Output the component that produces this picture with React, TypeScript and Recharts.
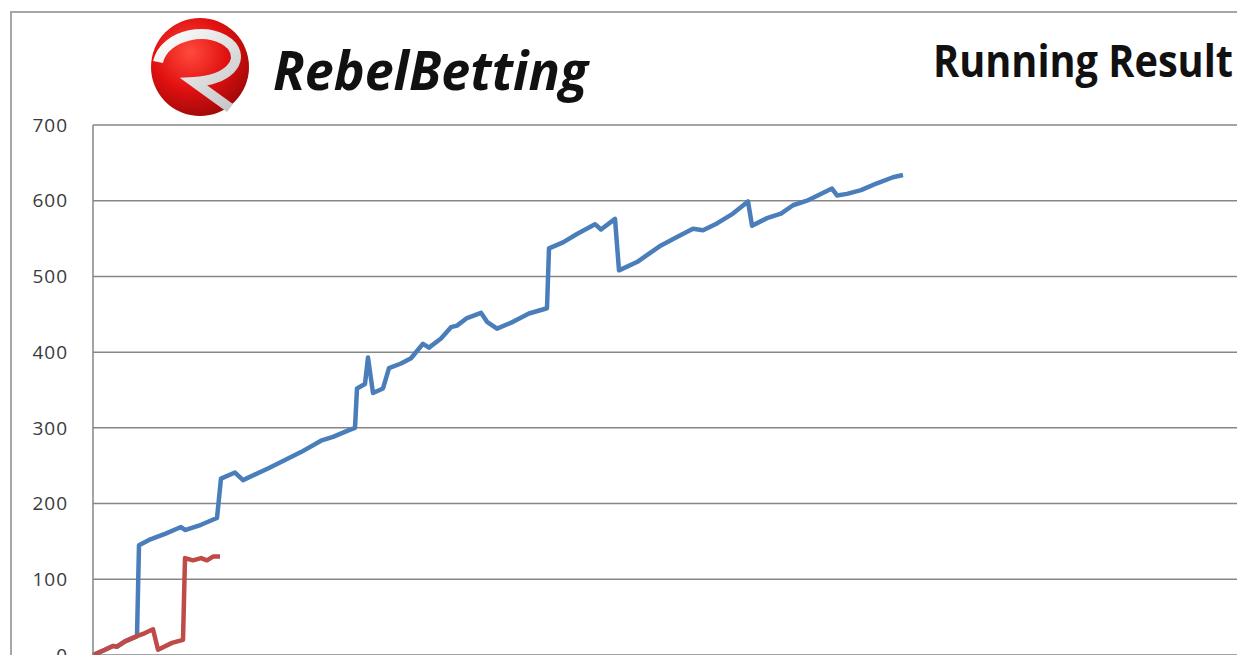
import React from "react";
import { LineChart, Line, XAxis, YAxis, CartesianGrid } from "recharts";

// running profit per betting day
const BLUE_DAYS = [0, 3, 5, 6, 8, 11, 11.5, 14, 18, 22, 23, 27, 31, 32, 35.5, 37.5, 44, 52, 57, 60, 64, 65.5, 66, 68, 68.75, 70, 72.5, 74, 77, 79.5, 82.5, 84, 87, 89.5, 91, 93.5, 97, 98.5, 101, 105, 109, 113.5, 114, 117.5, 121, 125.5, 127, 130.5, 131.5, 136, 142, 146, 150, 152.5, 156, 160, 163.75, 164.75, 168.5, 172, 175, 178.5, 184.75, 186, 188.5, 192, 196, 200, 202.5];
const BLUE_VALUES = [0, 7, 12, 11, 18, 25, 145, 152, 160, 169, 165, 172, 181, 233, 241, 231, 247, 268, 283, 288, 297, 300, 352, 358, 393, 346, 352, 379, 385, 392, 411, 406, 418, 433, 435, 445, 452, 440, 431, 440, 451, 458, 537, 545, 556, 569, 562, 576, 508, 519, 541, 552, 563, 561, 570, 583, 599, 567, 577, 583, 594, 600, 616, 607, 609, 614, 623, 631, 634];

const RED_DAYS = [0, 3, 5, 6, 8, 11, 13, 15, 16.25, 19.75, 22.5, 23, 25, 27, 28.5, 30, 31.75];
const RED_VALUES = [0, 7, 12, 11, 18, 25, 29, 34, 7, 16, 20, 128, 125, 128, 125, 130, 130];

const Y_TICKS = [0, 100, 200, 300, 400, 500, 600, 700];
const X_DOMAIN = [0, 286];
const TITLE = "Running Result";
const BRAND = "RebelBetting";

const toPoints = (days: number[], values: number[]) =>
  days.map((d, i) => ({ day: d, value: values[i] }));

const blueData = toPoints(BLUE_DAYS, BLUE_VALUES);
const redData = toPoints(RED_DAYS, RED_VALUES);

function Logo() {
  return (
    <svg
      width={1237}
      height={130}
      style={{ position: "absolute", left: 0, top: 0, pointerEvents: "none" }}
    >
      <defs>
        <radialGradient id="ball" cx="40%" cy="35%" r="70%">
          <stop offset="0%" stopColor="#ff4a3d" />
          <stop offset="55%" stopColor="#e01010" />
          <stop offset="100%" stopColor="#9c0808" />
        </radialGradient>
        <linearGradient id="swoosh" x1="0" y1="0" x2="1" y2="1">
          <stop offset="0%" stopColor="#ffffff" />
          <stop offset="100%" stopColor="#c4c4c4" />
        </linearGradient>
      </defs>
      <circle cx={200} cy={67} r={49} fill="url(#ball)" />
      <path
        d="M 158 62 C 164 34, 212 24, 232 46 C 244 62, 228 80, 194 82 L 230 108"
        fill="none"
        stroke="url(#swoosh)"
        strokeWidth={10}
      />
      <text
        x={273}
        y={90}
        fontFamily="'Open Sans', sans-serif"
        fontWeight={700}
        fontStyle="italic"
        fontSize={54}
        fill="#111"
        textLength={315}
        lengthAdjust="spacingAndGlyphs"
      >
        {BRAND}
      </text>
      <text
        x={933}
        y={77}
        fontFamily="'Open Sans', sans-serif"
        fontWeight={700}
        fontSize={45}
        fill="#111"
        textLength={300}
        lengthAdjust="spacingAndGlyphs"
      >
        {TITLE}
      </text>
    </svg>
  );
}

export default function App() {
  return (
    <div
      style={{
        position: "relative",
        width: 1237,
        height: 655,
        overflow: "hidden",
        background: "#fff",
      }}
    >
      <style>{"body{margin:0;overflow:hidden}"}</style>
      <div
        style={{
          position: "absolute",
          left: 10,
          top: 11,
          width: 1300,
          height: 700,
          border: "2px solid #a6a6a6",
        }}
      />
      <div style={{ position: "absolute", left: 0, top: 0 }}>
        <LineChart
          width={1300}
          height={700}
          margin={{ top: 125, right: 63, bottom: 45, left: 33 }}
        >
          <CartesianGrid vertical={false} stroke="#868686" strokeWidth={1.5} />
          <XAxis
            dataKey="day"
            type="number"
            domain={X_DOMAIN}
            hide
            allowDuplicatedCategory={false}
          />
          <YAxis
            width={60}
            domain={[0, 700]}
            ticks={Y_TICKS}
            interval={0}
            tickLine={false}
            tickSize={0}
            tickMargin={25}
            axisLine={{ stroke: "#868686", strokeWidth: 1.5 }}
            tick={{
              fontSize: 19,
              fill: "#3a3a3a",
              fontFamily: "'Open Sans', sans-serif",
              letterSpacing: 1,
            }}
          />
          <Line
            data={blueData}
            dataKey="value"
            type="linear"
            stroke="#4a7ebb"
            strokeWidth={4.5}
            strokeLinejoin="round"
            dot={false}
            activeDot={false}
            isAnimationActive={false}
          />
          <Line
            data={redData}
            dataKey="value"
            type="linear"
            stroke="#be4b48"
            strokeWidth={4.5}
            strokeLinejoin="round"
            dot={false}
            activeDot={false}
            isAnimationActive={false}
          />
        </LineChart>
      </div>
      <Logo />
    </div>
  );
}
